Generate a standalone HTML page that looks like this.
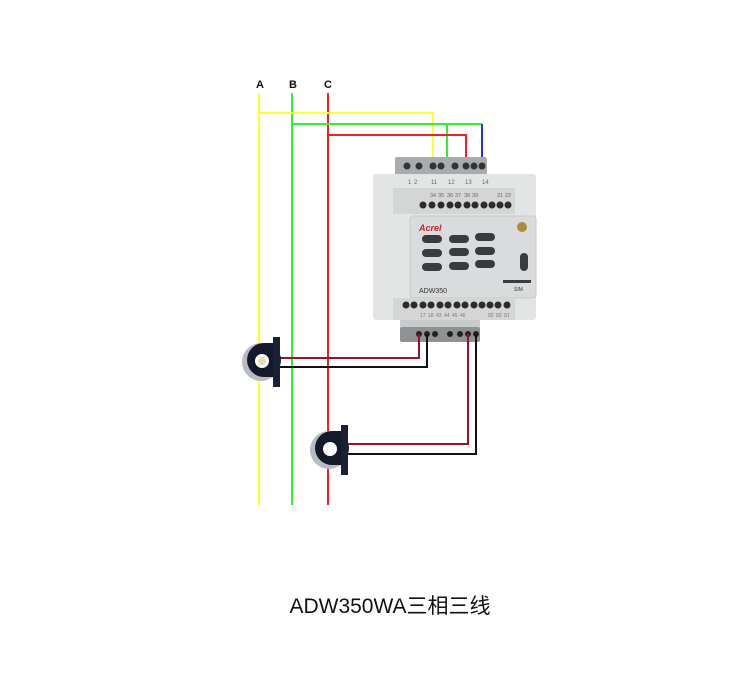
<!DOCTYPE html>
<html><head><meta charset="utf-8"><style>
html,body{margin:0;padding:0;background:#fff;width:750px;height:686px;overflow:hidden}
svg{display:block}
</style></head><body>
<svg width="750" height="686" viewBox="0 0 750 686" xmlns="http://www.w3.org/2000/svg" font-family="Liberation Sans, sans-serif">
<!-- labels -->
<text x="260" y="88" font-size="11" font-weight="bold" text-anchor="middle" fill="#111">A</text>
<text x="293" y="88" font-size="11" font-weight="bold" text-anchor="middle" fill="#111">B</text>
<text x="328" y="88" font-size="11" font-weight="bold" text-anchor="middle" fill="#111">C</text>
<!-- phase lines -->
<line x1="259" y1="93" x2="259" y2="505" stroke="#ffff33" stroke-width="2"/>
<line x1="292" y1="93" x2="292" y2="505" stroke="#33ee33" stroke-width="2"/>
<line x1="328" y1="93" x2="328" y2="505" stroke="#ee2222" stroke-width="2"/>
<!-- voltage wires -->
<polyline points="259,113 433,113 433,162" fill="none" stroke="#ffff33" stroke-width="2"/>
<polyline points="292,124 482,124" fill="none" stroke="#33ee33" stroke-width="2"/>
<polyline points="447,124 447,162" fill="none" stroke="#33ee33" stroke-width="2"/>
<line x1="482" y1="124" x2="482" y2="162" stroke="#2233dd" stroke-width="2"/>
<polyline points="328,135 466,135 466,162" fill="none" stroke="#ee2222" stroke-width="2"/>
<!-- device -->
<rect x="395" y="157" width="92" height="18" fill="#a9acae" rx="2"/>
<g fill="#333"><circle cx="407" cy="166" r="3.5"/><circle cx="419" cy="166" r="3.5"/><circle cx="433" cy="166" r="3.5"/><circle cx="441" cy="166" r="3.5"/><circle cx="455" cy="166" r="3.5"/><circle cx="466" cy="166" r="3.5"/><circle cx="474" cy="166" r="3.5"/><circle cx="482" cy="166" r="3.5"/></g>
<rect x="373" y="174" width="163" height="146" fill="#e3e5e5" rx="3"/>
<rect x="393" y="188" width="122" height="26" fill="#d4d6d6"/>
<g font-size="6" fill="#666"><text x="408" y="184">1</text><text x="414" y="184">2</text><text x="431" y="184">11</text><text x="448" y="184">12</text><text x="465" y="184">13</text><text x="482" y="184">14</text></g>
<g font-size="5.5" fill="#666"><text x="430" y="197">34</text><text x="438" y="197">35</text><text x="447" y="197">36</text><text x="455" y="197">37</text><text x="464" y="197">38</text><text x="472" y="197">39</text><text x="497" y="197">21</text><text x="505" y="197">22</text></g>
<g fill="#2b2b2b">
<circle cx="423" cy="205" r="3.5"/><circle cx="432" cy="205" r="3.5"/><circle cx="441" cy="205" r="3.5"/><circle cx="450" cy="205" r="3.5"/><circle cx="458" cy="205" r="3.5"/><circle cx="467" cy="205" r="3.5"/><circle cx="475" cy="205" r="3.5"/><circle cx="484" cy="205" r="3.5"/><circle cx="492" cy="205" r="3.5"/><circle cx="500" cy="205" r="3.5"/><circle cx="508" cy="205" r="3.5"/>
</g>
<rect x="410" y="216" width="126" height="82" fill="#d9dbdc" rx="3" stroke="#c8caca"/>
<text x="419" y="231" font-size="9" font-weight="bold" font-style="italic" fill="#c0282a">Acrel</text>
<g fill="#3a3b3d">
<rect x="422" y="235" width="20" height="8" rx="4"/><rect x="449" y="235" width="20" height="8" rx="4"/><rect x="475" y="233" width="20" height="8" rx="4"/>
<rect x="422" y="249" width="20" height="8" rx="4"/><rect x="449" y="248" width="20" height="8" rx="4"/><rect x="475" y="247" width="20" height="8" rx="4"/>
<rect x="422" y="263" width="20" height="8" rx="4"/><rect x="449" y="262" width="20" height="8" rx="4"/><rect x="475" y="260" width="20" height="8" rx="4"/>
<rect x="520" y="253" width="8" height="18" rx="4"/>
<rect x="503" y="280" width="28" height="3"/>
</g>
<circle cx="522" cy="227" r="5" fill="#b08a3a"/>
<text x="419" y="293" font-size="7" fill="#333">ADW350</text>
<text x="514" y="291" font-size="5" fill="#333">SIM</text>
<rect x="393" y="298" width="122" height="22" fill="#d4d6d6"/>
<g fill="#2b2b2b">
<circle cx="406" cy="305" r="3.5"/><circle cx="414" cy="305" r="3.5"/><circle cx="423" cy="305" r="3.5"/><circle cx="431" cy="305" r="3.5"/><circle cx="440" cy="305" r="3.5"/><circle cx="448" cy="305" r="3.5"/><circle cx="457" cy="305" r="3.5"/><circle cx="465" cy="305" r="3.5"/><circle cx="474" cy="305" r="3.5"/><circle cx="482" cy="305" r="3.5"/><circle cx="490" cy="305" r="3.5"/><circle cx="498" cy="305" r="3.5"/><circle cx="507" cy="305" r="3.5"/>
</g>
<g font-size="5" fill="#777"><text x="420" y="317">17</text><text x="428" y="317">18</text><text x="436" y="317">43</text><text x="444" y="317">44</text><text x="452" y="317">45</text><text x="460" y="317">46</text><text x="488" y="317">92</text><text x="496" y="317">93</text><text x="504" y="317">91</text></g>
<rect x="400" y="320" width="80" height="8" fill="#c9cbcb"/>
<rect x="400" y="327" width="80" height="15" fill="#8f9294" rx="2"/>
<g fill="#222"><circle cx="419" cy="334" r="3"/><circle cx="427" cy="334" r="3"/><circle cx="435" cy="334" r="3"/><circle cx="450" cy="334" r="3"/><circle cx="460" cy="334" r="3"/><circle cx="468" cy="334" r="3"/><circle cx="476" cy="334" r="3"/></g>
<!-- CT wires -->
<polyline points="278,358 419,358 419,334" fill="none" stroke="#a0102a" stroke-width="2"/>
<polyline points="278,367 427,367 427,334" fill="none" stroke="#111" stroke-width="2"/>
<polyline points="346,444 468,444 468,334" fill="none" stroke="#a0102a" stroke-width="2"/>
<polyline points="346,454 476,454 476,334" fill="none" stroke="#111" stroke-width="2"/>
<!-- CT1 -->
<circle cx="261" cy="362" r="19" fill="#b8bcc0"/>
<circle cx="264" cy="360" r="17" fill="#141a2c"/>
<rect x="264" y="343" width="12" height="34" fill="#141a2c"/>
<rect x="273" y="337" width="7" height="50" fill="#1a2035"/>
<circle cx="262" cy="361" r="7" fill="#fff"/>
<circle cx="262" cy="361" r="4" fill="#e8e0b0"/>
<!-- CT2 -->
<circle cx="329" cy="450" r="19" fill="#b8bcc0"/>
<circle cx="332" cy="448" r="17" fill="#141a2c"/>
<rect x="332" y="431" width="12" height="34" fill="#141a2c"/>
<rect x="341" y="425" width="7" height="50" fill="#1a2035"/>
<circle cx="330" cy="449" r="7" fill="#fff"/>
<!-- title -->
<text x="390" y="613" font-size="21" text-anchor="middle" fill="#111" font-family="Liberation Sans, Noto Sans CJK SC, sans-serif">ADW350WA三相三线</text>
</svg>
</body></html>
